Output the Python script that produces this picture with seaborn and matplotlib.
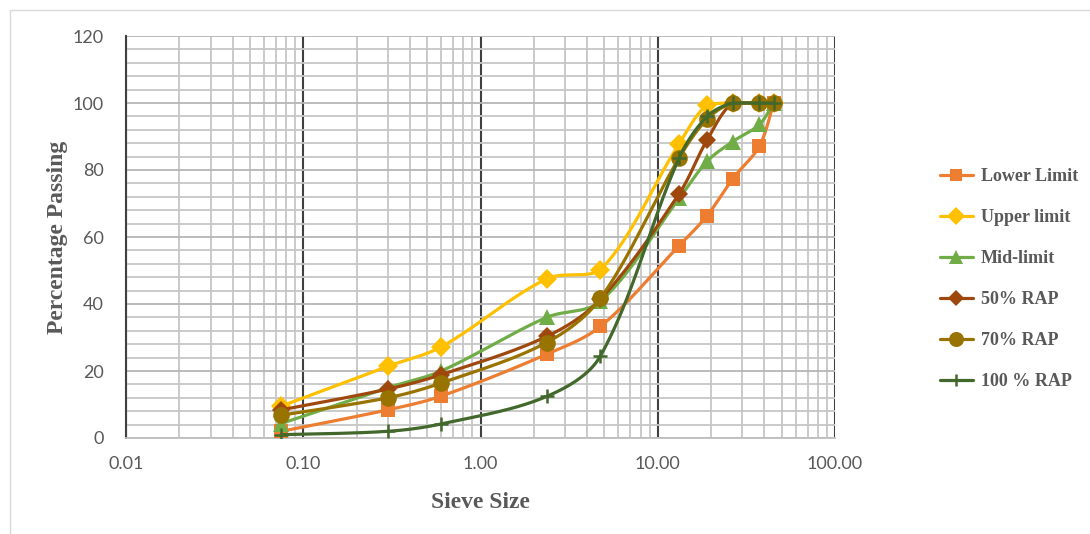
import numpy as np
import pandas as pd
import seaborn as sns
import matplotlib
matplotlib.use("Agg")
import matplotlib.pyplot as plt
from matplotlib.lines import Line2D
from matplotlib.ticker import LogLocator, MultipleLocator, FixedLocator, FuncFormatter

# Sieve sizes (mm) and percentage passing for each gradation
sieve = [0.075, 0.3, 0.6, 2.36, 4.75, 13.2, 19.0, 26.5, 37.5, 45.0]
lower_limit = [2, 8.4, 12.5, 25, 33.3, 57.4, 66.4, 77.4, 87.2, 100]
upper_limit = [9.5, 21.4, 27.2, 47.5, 50.2, 87.8, 99.4, 100, 100, 100]
mid_limit = [4.3, 15, 20, 36, 40.8, 71.5, 82.6, 88.5, 93.6, 100]
rap_50 = [8.4, 14.6, 18.9, 30.3, 41.4, 72.9, 89, 100, 100, 100]
rap_70 = [6.8, 12, 16.4, 28.5, 41.7, 83.6, 95.2, 100, 100, 100]
rap_100 = [1.0, 2.0, 4.2, 12.4, 24.5, 83.6, 96, 100, 100, 100]

series_names = ["Lower Limit", "Upper limit", "Mid-limit", "50% RAP", "70% RAP", "100 % RAP"]
series_values = [lower_limit, upper_limit, mid_limit, rap_50, rap_70, rap_100]
colors = ["#ED7D31", "#FFC000", "#70AD47", "#9E480E", "#997300", "#43682B"]
markers = ["s", "D", "^", "D", "o", "+"]
msizes = [10, 10, 11, 9.5, 12, 10]

sns.set_theme(style="white")
plt.rcParams["font.family"] = ["Lato", "DejaVu Sans"]

fig = plt.figure(figsize=(10.9, 5.34), dpi=100)
ax = fig.add_axes([126 / 1090, 1 - 438 / 534, (835 - 126) / 1090, (438 - 36) / 534])

# approximate pixel scale used for the smoothing (per decade / per percent)
SX, SY = 177.0, 3.34


def smooth(xs, ys, n=40):
    """Bezier smoothing through the points in screen-like coordinates.
    Tangent arms scale with the adjacent segment lengths and the control
    points are kept within each segment's vertical range."""
    P = np.column_stack([np.log10(np.asarray(xs, float)) * SX,
                         np.asarray(ys, float) * SY])
    m = len(P)
    seglen = np.linalg.norm(np.diff(P, axis=0), axis=1)
    out = [P[0]]
    for i in range(m - 1):
        p1, p2 = P[i], P[i + 1]
        d = seglen[i]
        # outgoing arm at p1
        if i > 0:
            t1 = P[i + 1] - P[i - 1]
            w1 = d / (seglen[i - 1] + d)
        else:
            t1 = P[i + 1] - P[i]
            w1 = 0.5
        # incoming arm at p2
        if i + 2 < m:
            t2 = P[i + 2] - P[i]
            w2 = d / (seglen[i + 1] + d)
        else:
            t2 = P[i + 1] - P[i]
            w2 = 0.5
        c1 = p1 + t1 * w1 / 3.0
        c2 = p2 - t2 * w2 / 3.0
        lo, hi = min(p1[1], p2[1]), max(p1[1], p2[1])
        c1[1] = np.clip(c1[1], lo, hi)
        c2[1] = np.clip(c2[1], lo, hi)
        t = np.linspace(0, 1, n)[1:, None]
        seg = ((1 - t) ** 3) * p1 + 3 * ((1 - t) ** 2) * t * c1 + 3 * (1 - t) * t ** 2 * c2 + t ** 3 * p2
        out.extend(seg)
    out = np.array(out)
    return 10 ** (out[:, 0] / SX), out[:, 1] / SY


handles = []
for k, (name, vals, c, mk, ms) in enumerate(zip(series_names, series_values, colors, markers, msizes)):
    sx, sy = smooth(sieve, vals)
    curve = pd.DataFrame({"x": sx, "y": sy})
    sns.lineplot(data=curve, x="x", y="y", ax=ax, color=c, linewidth=2.3,
                 sort=False, estimator=None, zorder=3 + k)
    pts = pd.DataFrame({"x": sieve, "y": vals})
    mew = 1.8 if mk == "+" else 0
    ax.plot(pts["x"], pts["y"], linestyle="none", marker=mk, markersize=ms,
            color=c, markeredgecolor=c, markeredgewidth=mew, zorder=3 + k)
    handles.append(Line2D([0], [0], color=c, linewidth=2.3, marker=mk,
                          markersize=ms * 0.9, markeredgewidth=mew, markeredgecolor=c))

ax.set_xscale("log")
ax.set_xlim(0.01, 100)
ax.set_ylim(0, 120)

ax.xaxis.set_major_locator(FixedLocator([0.01, 0.1, 1, 10, 100]))
ax.xaxis.set_minor_locator(LogLocator(base=10, subs=np.arange(2, 10)))
ax.xaxis.set_major_formatter(FuncFormatter(lambda v, p: f"{v:.2f}"))
ax.xaxis.set_minor_formatter(FuncFormatter(lambda v, p: ""))
ax.yaxis.set_major_locator(MultipleLocator(20))
ax.yaxis.set_minor_locator(MultipleLocator(4))

ax.grid(which="minor", axis="both", color="#C6C6C6", linewidth=1.3, zorder=0)
ax.grid(which="major", axis="y", color="#B5B5B5", linewidth=1.3, zorder=0)
ax.grid(which="major", axis="x", color="#404040", linewidth=1.5, zorder=1)
ax.set_axisbelow(True)

for side in ["top", "right"]:
    ax.spines[side].set_visible(False)
ax.spines["left"].set_color("#404040")
ax.spines["left"].set_linewidth(1.5)
ax.spines["bottom"].set_color("#BFBFBF")
ax.spines["bottom"].set_linewidth(1.3)

ax.tick_params(axis="both", which="both", length=0, labelsize=13, labelcolor="#595959")
ax.tick_params(axis="y", pad=16)
ax.tick_params(axis="x", pad=13)

serif_bold = dict(family="Liberation Serif", fontweight="bold", fontsize=17, color="#595959")
ax.set_xlabel("Sieve Size", labelpad=14, **serif_bold)
ax.set_ylabel("Percentage Passing", labelpad=3, **serif_bold)

leg = fig.legend(handles, series_names, loc="upper left", bbox_to_anchor=(933 / 1090, 1 - 161 / 534),
                 frameon=False, handlelength=1.8, labelspacing=1.33, handletextpad=0.45,
                 borderaxespad=0, prop=dict(family="Liberation Serif", weight="bold", size=13))
for t in leg.get_texts():
    t.set_color("#595959")

# chart area border
fig.add_artist(Line2D([10 / 1090, 10 / 1090], [0, 1 - 10 / 534], color="#D9D9D9", linewidth=1, transform=fig.transFigure))
fig.add_artist(Line2D([10 / 1090, 1], [1 - 10 / 534, 1 - 10 / 534], color="#D9D9D9", linewidth=1, transform=fig.transFigure))

fig.savefig("out.png", dpi=100, facecolor="white")
